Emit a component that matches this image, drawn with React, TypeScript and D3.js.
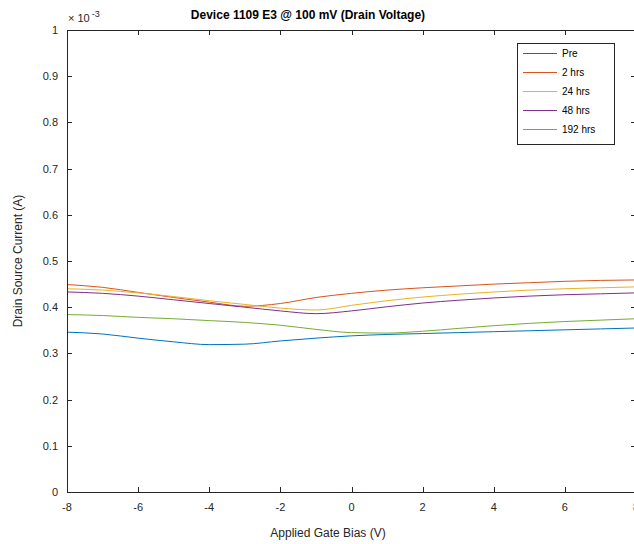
import React from "react";
import * as d3 from "d3";

const xs = [-8, -7, -6, -5, -4, -3, -2, -1, 0, 1, 2, 3, 4, 5, 6, 7, 8];
const pre = [0.346, 0.342, 0.333, 0.325, 0.319, 0.320, 0.327, 0.333, 0.338, 0.341, 0.343, 0.345, 0.347, 0.349, 0.351, 0.353, 0.355];
const hrs2 = [0.449, 0.443, 0.432, 0.421, 0.411, 0.402, 0.408, 0.421, 0.430, 0.437, 0.442, 0.446, 0.450, 0.453, 0.456, 0.458, 0.459];
const hrs24 = [0.440, 0.437, 0.431, 0.423, 0.414, 0.406, 0.398, 0.394, 0.404, 0.414, 0.422, 0.428, 0.433, 0.437, 0.440, 0.442, 0.444];
const hrs48 = [0.433, 0.430, 0.424, 0.416, 0.408, 0.400, 0.392, 0.386, 0.392, 0.401, 0.409, 0.415, 0.420, 0.424, 0.427, 0.429, 0.431];
const hrs192 = [0.384, 0.382, 0.378, 0.375, 0.371, 0.367, 0.361, 0.352, 0.345, 0.344, 0.348, 0.354, 0.360, 0.365, 0.369, 0.372, 0.375];
const seriesNames = ["Pre", "2 hrs", "24 hrs", "48 hrs", "192 hrs"];
const seriesValues = [pre, hrs2, hrs24, hrs48, hrs192];
const colors = ["#0072BD", "#D95319", "#EDB120", "#7E2F8E", "#77AC30"];
const xTicks = [-8, -6, -4, -2, 0, 2, 4, 6, 8];
const yTicks = [0, 0.1, 0.2, 0.3, 0.4, 0.5, 0.6, 0.7, 0.8, 0.9, 1];

export default function App() {
  const W = 634, H = 544;
  const left = 67, right = 636, top = 30, bottom = 492;
  const x = d3.scaleLinear().domain([-8, 8]).range([left, right]);
  const y = d3.scaleLinear().domain([0, 1]).range([bottom, top]);
  const line = d3.line<number>().x((_, i) => x(xs[i])).y((d) => y(d)).curve(d3.curveMonotoneX);
  const font = "'Liberation Sans', Arial, sans-serif";
  const tk = 5;
  const legX = 517, legY = 43, legW = 97, legH = 101;
  return (
    <svg width={W} height={H} style={{ position: "absolute", left: 0, top: 0 }} fontFamily={font}>
      <rect x={0} y={0} width={W} height={H} fill="#fff" />
      {seriesValues.map((s, i) => (
        <path key={i} d={line(s) || ""} fill="none" stroke={colors[i]} strokeWidth={1} />
      ))}
      {/* axes frame */}
      <g stroke="#262626" strokeWidth={1} fill="none">
        <line x1={left} x2={right} y1={bottom + 0.5} y2={bottom + 0.5} />
        <line x1={left} x2={right} y1={top + 0.5} y2={top + 0.5} />
        <line x1={left + 0.5} x2={left + 0.5} y1={top} y2={bottom} />
        <line x1={right - 0.5} x2={right - 0.5} y1={top} y2={bottom} />
        {xTicks.map((t) => (
          <g key={"x" + t}>
            <line x1={Math.round(x(t)) + 0.5} x2={Math.round(x(t)) + 0.5} y1={bottom} y2={bottom - tk} />
            <line x1={Math.round(x(t)) + 0.5} x2={Math.round(x(t)) + 0.5} y1={top} y2={top + tk} />
          </g>
        ))}
        {yTicks.map((t) => (
          <g key={"y" + t}>
            <line x1={left} x2={left + tk} y1={Math.round(y(t)) + 0.5} y2={Math.round(y(t)) + 0.5} />
            <line x1={right} x2={right - tk} y1={Math.round(y(t)) + 0.5} y2={Math.round(y(t)) + 0.5} />
          </g>
        ))}
      </g>
      <g fontSize={11} fill="#262626">
        {xTicks.map((t) => (
          <text key={"xl" + t} x={x(t)} y={bottom + 19} textAnchor="middle">{t}</text>
        ))}
        {yTicks.map((t) => (
          <text key={"yl" + t} x={left - 9} y={y(t) + 4} textAnchor="end">{t}</text>
        ))}
        <text x={68} y={22} fontSize={11}>
          <tspan>× 10</tspan>
          <tspan dx={2} dy={-5} fontSize={9}>-3</tspan>
        </text>
      </g>
      <text x={308} y={19} textAnchor="middle" fontSize={12} fontWeight="bold" fill="#000">
        Device 1109 E3 @ 100 mV (Drain Voltage)
      </text>
      <text x={328} y={537} textAnchor="middle" fontSize={12} fill="#262626">Applied Gate Bias (V)</text>
      <text transform={`translate(22,${(top + bottom) / 2}) rotate(-90)`} textAnchor="middle" fontSize={12} fill="#262626">
        Drain Source Current (A)
      </text>
      <g>
        <rect x={legX + 0.5} y={legY + 0.5} width={legW} height={legH} fill="#fff" stroke="#262626" strokeWidth={1} />
        {seriesNames.map((n, i) => {
          const yy = 53 + i * 19;
          return (
            <g key={n}>
              <line x1={523} x2={557} y1={yy + 0.5} y2={yy + 0.5} stroke={colors[i]} strokeWidth={1} />
              <text x={562} y={yy + 4} fontSize={10} fill="#000">{n}</text>
            </g>
          );
        })}
      </g>
    </svg>
  );
}
